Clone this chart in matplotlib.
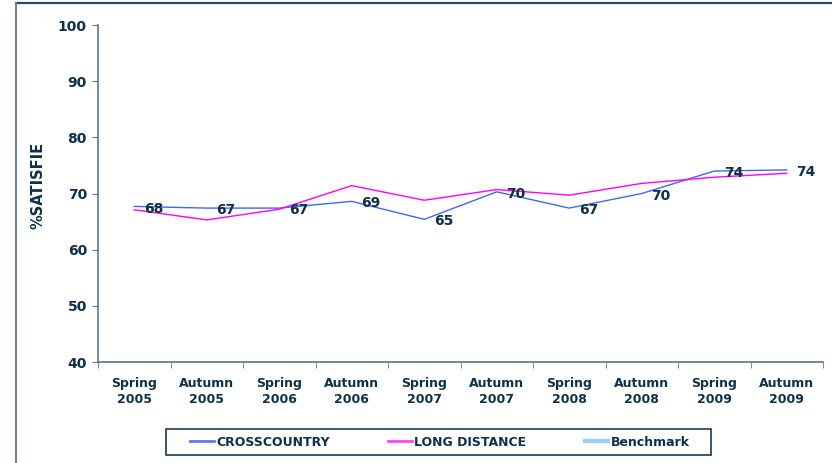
import matplotlib
matplotlib.use("Agg")
import matplotlib.pyplot as plt
from matplotlib.lines import Line2D
from matplotlib.patches import Rectangle

categories = ["Spring\n2005", "Autumn\n2005", "Spring\n2006", "Autumn\n2006", "Spring\n2007",
              "Autumn\n2007", "Spring\n2008", "Autumn\n2008", "Spring\n2009", "Autumn\n2009"]
crosscountry = [67.7, 67.4, 67.4, 68.6, 65.4, 70.3, 67.4, 70.0, 74.0, 74.2]
cc_labels = ["68", "67", "67", "69", "65", "70", "67", "70", "74", "74"]
long_distance = [67.1, 65.3, 67.2, 71.4, 68.8, 70.7, 69.7, 71.8, 72.9, 73.6]
yticks = [40, 50, 60, 70, 80, 90, 100]

TXT = "#0f3048"
AX = "#5f7687"

plt.rcParams['font.family'] = ['DejaVu Sans']
fig = plt.figure(figsize=(8.32, 4.63), dpi=100)
ax = fig.add_axes([98/832, 1-362/463, (823-98)/832, (362-25)/463])

x = list(range(len(categories)))
ax.plot(x, crosscountry, color="#4466ee", lw=1.0, label="CROSSCOUNTRY")
ax.plot(x, long_distance, color="#ff00ff", lw=1.0, label="LONG DISTANCE")

for xi, v, lab in zip(x, crosscountry, cc_labels):
    ax.annotate(lab, (xi, v), xytext=(7, -1.5), textcoords="offset points",
                ha="left", va="center", fontsize=10, fontweight="bold", color=TXT)

ax.set_xlim(-0.5, len(categories)-0.5)
ax.set_ylim(40, 100)
ax.set_yticks(yticks)
ax.set_yticklabels([str(t) for t in yticks], fontsize=10, fontweight="bold", color=TXT)
ax.set_xticks(x)
ax.set_xticklabels(categories, fontsize=9, fontweight="bold", color=TXT, linespacing=1.3)
ax.set_xticks([i-0.5 for i in range(len(categories)+1)], minor=True)
ax.tick_params(axis="x", which="major", length=0, pad=11)
ax.tick_params(axis="x", which="minor", length=4, color=AX, direction="out")
ax.tick_params(axis="y", length=4, color=AX, pad=4)
for s in ["top", "right"]:
    ax.spines[s].set_visible(False)
for s in ["left", "bottom"]:
    ax.spines[s].set_color(AX)
    ax.spines[s].set_linewidth(1.2)

fig.text(38/832, 1-185/463, "%SATISFIE", rotation=90, ha="center", va="center",
         fontsize=10.5, fontweight="bold", color=TXT)

handles = [Line2D([], [], color="#6677ee", lw=2),
           Line2D([], [], color="#ff44ff", lw=2),
           Line2D([], [], color="#99ccff", lw=3)]
leg = fig.legend(handles, ["CROSSCOUNTRY", "LONG DISTANCE", "Benchmark"], ncol=3,
                 loc="center", bbox_to_anchor=(440/832, 1-442/463),
                 prop={"size": 9, "weight": "bold"}, frameon=False,
                 handlelength=1.85, handletextpad=0.2,
                 columnspacing=4.7, borderpad=0.3)
for t in leg.get_texts():
    t.set_color(TXT)

# legend box
fig.add_artist(Rectangle((166/832, 1-455/463), (711-166)/832, (455-429)/463,
                         transform=fig.transFigure, fill=False,
                         edgecolor="#1d3a4f", lw=1.2))

# outer chart frame (top and left edges visible)
fig.add_artist(Line2D([16/832, 1.0], [1-3/463, 1-3/463], transform=fig.transFigure,
                      color="#2c4a5e", lw=1.6))
fig.add_artist(Line2D([16/832, 16/832], [0, 1-3/463], transform=fig.transFigure,
                      color="#6c8190", lw=1.4))

fig.savefig("out.png", dpi=100)
